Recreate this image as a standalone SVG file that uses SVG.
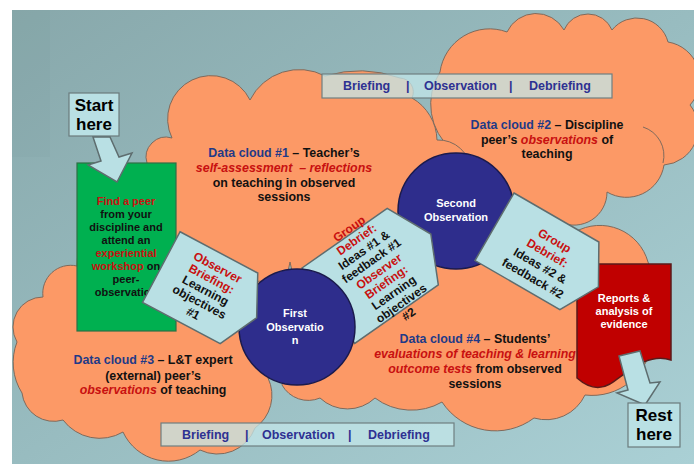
<svg xmlns="http://www.w3.org/2000/svg" width="694" height="464" viewBox="0 0 694 464">
<defs>
<linearGradient id="bg" x1="0" y1="0" x2="1" y2="1">
<stop offset="0" stop-color="#88a8ab"/>
<stop offset="0.5" stop-color="#98bcc0"/>
<stop offset="1" stop-color="#aad0d5"/>
</linearGradient>
<style>
text{font-family:"Liberation Sans",Arial,sans-serif;font-weight:bold}
.cloud{fill:#fc9966;stroke:#7f6a5c;stroke-width:1}
.band{fill:#c2e6e8;fill-opacity:0.76;stroke:#6f7f80;stroke-width:1.2}
.bt{font-size:12.5px;fill:#2e3192}
.lb{fill:#b9e0e4;stroke:#5e6d6f;stroke-width:1.5}
.circ{fill:#2e2d8c;stroke:#1a1a4d;stroke-width:1.5}
.ct{font-size:11px;fill:#ffffff;text-anchor:middle}
.st{font-size:12px;text-anchor:middle;fill:#111}
.gt{font-size:11px;text-anchor:middle;fill:#111}
.dc{font-size:12.4px;text-anchor:middle;fill:#111}
.r{fill:#c81010}
.nv{fill:#1f3a87}
.it{font-style:italic;fill:#c81010}
.big{font-size:17px;text-anchor:middle;fill:#000}
</style>
</defs>

<g id="background">
<rect width="694" height="464" fill="#ffffff"/>
<rect x="12" y="10" width="682" height="454" fill="url(#bg)"/>
<rect x="12" y="10" width="38" height="147" fill="#5f8285" opacity="0.06"/>
</g>

<g id="cloud2">
<path class="cloud" d="M452,150 A60,60 0 0,1 440,72 A50,50 0 0,1 507,32 A32,32 0 0,1 564,30 A26,26 0 0,1 612,30 A32,32 0 0,1 668,42 A38,38 0 0,1 690,105 A37,37 0 0,1 664,165 A38,38 0 0,1 607,192 A33,33 0 0,1 560,222 L480,232 Z"/>
<path d="M643,127 A30,30 0 0,1 663,163" fill="none" stroke="#7f6a5c" stroke-width="1"/>
<text class="dc" x="547" y="129"><tspan class="nv">Data cloud #2</tspan> – Discipline</text>
<text class="dc" x="547" y="144">peer’s <tspan class="it">observations</tspan> of</text>
<text class="dc" x="547" y="158">teaching</text>
</g>

<g id="cloud1">
<path class="cloud" d="M150,205 A25,25 0 0,1 147,163 A20,20 0 0,1 172,138 A1,1 0 0,1 250,100 A55,55 0 0,1 325,76 A120,120 0 0,1 400,78 A14,14 0 0,1 412,98 A50,50 0 0,1 437,140 A1,1 0 0,1 440,205 A1,1 0 0,1 370,252 A1,1 0 0,1 290,262 A1,1 0 0,1 200,252 A1,1 0 0,1 150,205 Z"/>
<text class="dc" x="284" y="157"><tspan class="nv">Data cloud #1</tspan> – Teacher’s</text>
<text class="dc" x="284" y="172"><tspan class="it">self-assessment&#160; – reflections</tspan></text>
<text class="dc" x="284" y="187">on teaching in observed</text>
<text class="dc" x="284" y="201">sessions</text>
</g>

<g id="cloud3">
<path class="cloud" d="M77,266 A1,1 0 0,1 180,262 A60,60 0 0,1 250,282 A1,1 0 0,1 268,378 A40,40 0 0,1 255,428 A40,40 0 0,1 200,450 A50,50 0 0,1 123,432 A46,46 0 0,1 63,420 A32,32 0 0,1 22,393 A57,57 0 0,1 17,342 A30,30 0 0,1 43,297 A28,28 0 0,1 77,266 Z"/>
<text class="dc" x="153" y="364"><tspan class="nv">Data cloud #3</tspan> – L&amp;T expert</text>
<text class="dc" x="153" y="380">(external) peer’s</text>
<text class="dc" x="153" y="394"><tspan class="it">observations</tspan> of teaching</text>
</g>

<g id="cloud4">
<path class="cloud" d="M315,272 L455,250 L575,232 A50,50 0 0,1 648,262 A100,100 0 0,1 652,340 A60,60 0 0,1 585,395 A43,43 0 0,1 534,418 A64,64 0 0,1 442,402 A61,61 0 0,1 375,398 A40,40 0 0,1 320,398 A30,30 0 0,1 282,385 L290,340 Z"/>
<text class="dc" x="475" y="343"><tspan class="nv">Data cloud #4</tspan> – Students’</text>
<text class="dc" x="475" y="358"><tspan class="it">evaluations of teaching &amp; learning</tspan></text>
<text class="dc" x="475" y="373"><tspan class="it">outcome tests</tspan> from observed</text>
<text class="dc" x="475" y="388">sessions</text>
</g>

<g id="band-top">
<rect class="band" x="322" y="74" width="290" height="24"/>
<text class="bt" x="343" y="90">Briefing</text>
<text class="bt" x="406" y="90">|</text>
<text class="bt" x="424" y="90">Observation</text>
<text class="bt" x="509" y="90">|</text>
<text class="bt" x="529" y="90">Debriefing</text>
</g>

<g id="band-bottom">
<rect class="band" x="161" y="423" width="293" height="23"/>
<text class="bt" x="182" y="439">Briefing</text>
<text class="bt" x="245" y="439">|</text>
<text class="bt" x="262" y="439">Observation</text>
<text class="bt" x="348" y="439">|</text>
<text class="bt" x="368" y="439">Debriefing</text>
</g>

<g id="find-peer">
<rect x="77" y="163" width="99" height="168" fill="#00b050" stroke="#2f6f45" stroke-width="1.2"/>
<text class="gt" x="126" y="205"><tspan class="r">Find a peer</tspan></text>
<text class="gt" x="126" y="218">from your</text>
<text class="gt" x="126" y="231">discipline and</text>
<text class="gt" x="126" y="244">attend an</text>
<text class="gt" x="126" y="257"><tspan class="r">experiential</tspan></text>
<text class="gt" x="126" y="270"><tspan class="r">workshop</tspan> on</text>
<text class="gt" x="126" y="283">peer-</text>
<text class="gt" x="126" y="296">observation</text>
</g>

<g id="start-here">
<rect x="69" y="93" width="50" height="43" fill="#b9e0e4" stroke="#6b7b7c" stroke-width="1.2"/>
<text class="big" x="94" y="111">Start</text>
<text class="big" x="94" y="130">here</text>
</g>

<g id="second-observation">
<circle class="circ" cx="456" cy="211" r="58"/>
<text class="ct" x="456" y="207">Second</text>
<text class="ct" x="456" y="221">Observation</text>
</g>

<g id="group-debrief-1" transform="translate(302,268) rotate(-35)">
<polygon class="lb" points="0,0 104,0 125,46 102,92 0,92"/>
<text class="st" x="61" y="-1"><tspan class="r">Group</tspan></text>
<text class="st" x="61" y="12"><tspan class="r">Debrief:</tspan></text>
<text class="st" x="61" y="25">Ideas #1 &amp;</text>
<text class="st" x="61" y="38">feedback #1</text>
<text class="st" x="61" y="51"><tspan class="r">Observer</tspan></text>
<text class="st" x="61" y="64"><tspan class="r">Briefing:</tspan></text>
<text class="st" x="61" y="77">Learning</text>
<text class="st" x="61" y="90">objectives</text>
<text class="st" x="61" y="103">#2</text>
</g>

<g id="first-observation">
<circle class="circ" cx="297" cy="327" r="58"/>
<text class="ct" x="295" y="317">First</text>
<text class="ct" x="295" y="331">Observatio</text>
<text class="ct" x="295" y="344">n</text>
</g>

<g id="observer-briefing-1" transform="translate(173,228) rotate(28)">
<polygon class="lb" points="8,0 96,0 116,40 96,80 8,80"/>
<text class="st" x="58" y="18"><tspan class="r">Observer</tspan></text>
<text class="st" x="58" y="31"><tspan class="r">Briefing:</tspan></text>
<text class="st" x="58" y="44">Learning</text>
<text class="st" x="58" y="57">objectives</text>
<text class="st" x="58" y="70">#1</text>
</g>

<g id="reports">
<path d="M577,264 H671 V360 C648,352 628,372 610,384 C598,391 586,386 577,378 Z" fill="#c00000" stroke="#5a1a1a" stroke-width="1.5"/>
<text class="ct" x="624" y="302">Reports &amp;</text>
<text class="ct" x="624" y="315">analysis of</text>
<text class="ct" x="624" y="328">evidence</text>
</g>

<g id="group-debrief-2" transform="translate(514,193) rotate(30)">
<polygon class="lb" points="0,0 98,0 120,39 98,78 0,78"/>
<text class="st" x="59" y="25"><tspan class="r">Group</tspan></text>
<text class="st" x="59" y="39.5"><tspan class="r">Debrief:</tspan></text>
<text class="st" x="59" y="54">Ideas #2 &amp;</text>
<text class="st" x="59" y="68.5">feedback #2</text>
</g>

<g id="connectors">
<polygon class="lb" points="93,137 110,137 119,157 132,153 117,182 88,165 101,161"/>
<polygon class="lb" points="619,356 640,351 650,383 660,382 645,405 617,393 628,390"/>
</g>

<g id="rest-here">
<rect x="628" y="403" width="52" height="44" fill="#b9e0e4" stroke="#6b7b7c" stroke-width="1.2"/>
<text class="big" x="654" y="421">Rest</text>
<text class="big" x="654" y="440">here</text>
</g>
</svg>
